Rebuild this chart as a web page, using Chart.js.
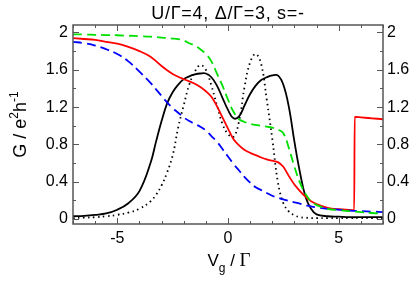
<!DOCTYPE html>
<html lang="en">
<head>
<meta charset="UTF-8">
<title>G vs Vg</title>
<script src="https://cdn.jsdelivr.net/npm/chart.js"></script>
<style>
    body { margin: 0; background: #fff; }
    #wrap { width: 411px; height: 284px; }
</style>
</head>
<body>
<div id="wrap"><canvas id="gChart"></canvas></div>
<script>
// gate voltage grid (Vg / Gamma)
const vg = [-7, -6.5, -6, -5.5, -5, -4.5, -4, -3.5, -3.25, -3, -2.75, -2.5, -2.25, -2, -1.75, -1.5, -1.25, -1, -0.75, -0.5, -0.25,
    0, 0.25, 0.5, 0.75, 1, 1.25, 1.5, 1.75, 2, 2.25, 2.5, 2.75, 3, 3.25, 3.5, 3.75, 4, 4.5, 5, 5.5, 6, 6.5, 7];

const gSolid = [0.03, 0.035, 0.045, 0.06, 0.10, 0.17, 0.30, 0.60, 0.83, 1.05, 1.24, 1.36, 1.44, 1.50, 1.53, 1.55, 1.56, 1.56, 1.52, 1.43, 1.30,
    1.17, 1.08, 1.10, 1.22, 1.34, 1.43, 1.49, 1.52, 1.54, 1.54, 1.44, 1.20, 0.83, 0.50, 0.24, 0.11, 0.05, 0.03, 0.025, 0.02, 0.02, 0.02, 0.02];

const gDotted = [0.01, 0.015, 0.02, 0.03, 0.045, 0.07, 0.11, 0.19, 0.26, 0.36, 0.50, 0.68, 0.98, 1.22, 1.44, 1.58, 1.65, 1.60, 1.43, 1.22, 1.02,
    0.91, 0.88, 1.05, 1.42, 1.68, 1.77, 1.66, 1.28, 0.86, 0.40, 0.17, 0.08, 0.04, 0.02, 0.015, 0.01, 0.01, 0.01, 0.01, 0.01, 0.01, 0.01, 0.01];

const gGreen = [1.98, 1.978, 1.975, 1.972, 1.97, 1.965, 1.96, 1.955, 1.95, 1.945, 1.94, 1.935, 1.928, 1.915, 1.885, 1.86, 1.82, 1.77, 1.69, 1.56, 1.43,
    1.28, 1.15, 1.07, 1.04, 1.02, 1.01, 1.00, 0.99, 0.98, 0.96, 0.92, 0.76, 0.56, 0.39, 0.27, 0.19, 0.15, 0.11, 0.095, 0.085, 0.075, 0.065, 0.06];

const gBlue = [1.90, 1.885, 1.86, 1.82, 1.77, 1.69, 1.58, 1.46, 1.39, 1.32, 1.25, 1.19, 1.14, 1.09, 1.05, 1.02, 0.99, 0.95, 0.89, 0.83, 0.75,
    0.67, 0.59, 0.52, 0.45, 0.39, 0.34, 0.31, 0.28, 0.25, 0.23, 0.21, 0.195, 0.18, 0.165, 0.15, 0.135, 0.125, 0.11, 0.10, 0.09, 0.085, 0.08, 0.075];

// red curve has a jump near Vg = 5.7
const vgRed = [-7, -6.5, -6, -5.5, -5, -4.5, -4, -3.5, -3, -2.75, -2.5, -2.25, -2, -1.75, -1.5, -1.25, -1, -0.75, -0.5, -0.25,
    0, 0.25, 0.5, 0.75, 1, 1.25, 1.5, 1.75, 2, 2.25, 2.5, 2.75, 3, 3.25, 3.5, 3.75, 4, 4.5, 5, 5.5, 5.7, 5.72, 6, 6.5, 7];
const gRed = [1.94, 1.93, 1.92, 1.90, 1.88, 1.845, 1.80, 1.74, 1.64, 1.595, 1.555, 1.525, 1.50, 1.475, 1.45, 1.415, 1.37, 1.31, 1.21, 1.09,
    0.97, 0.855, 0.79, 0.74, 0.71, 0.685, 0.66, 0.64, 0.625, 0.61, 0.56, 0.46, 0.37, 0.30, 0.24, 0.19, 0.16, 0.12, 0.105, 0.097, 0.095, 1.095, 1.09, 1.08, 1.07];

const xTicks = [-5, 0, 5];
const yTicks = [0, 0.4, 0.8, 1.2, 1.6, 2];
const titleText = 'U/Γ=4, Δ/Γ=3, s=-';

const pts = (xs, ys) => xs.map((x, i) => ({ x: x, y: ys[i] }));

function line(data, color, dash, mono) {
    return {
        data: data,
        borderColor: color,
        borderWidth: 1.8,
        borderDash: dash,
        pointRadius: 0,
        fill: false,
        tension: 0.4,
        cubicInterpolationMode: mono ? 'monotone' : 'default'
    };
}

const FONT = '"Liberation Sans", Arial, sans-serif';
const SERIF = '"Liberation Serif", "Times New Roman", serif';

// frame, inward ticks, title and axis labels
const framePlugin = {
    id: 'frame',
    afterDraw(chart) {
        const c = chart.ctx, a = chart.chartArea;
        const xs = chart.scales.x, ys = chart.scales.y;
        c.save();
        c.strokeStyle = '#555';
        c.lineWidth = 1.5;
        c.strokeRect(a.left, a.top, a.right - a.left, a.bottom - a.top);
        c.lineWidth = 1;
        c.beginPath();
        for (let v = -7; v <= 7; v++) {
            const len = (v % 5 === 0) ? 6 : 3;
            const px = Math.round(xs.getPixelForValue(v)) + 0.5;
            c.moveTo(px, a.bottom); c.lineTo(px, a.bottom - len);
            c.moveTo(px, a.top); c.lineTo(px, a.top + len);
        }
        for (let k = 0; k <= 10; k++) {
            const v = k * 0.2;
            const len = (k % 2 === 0) ? 6 : 3;
            const py = Math.round(ys.getPixelForValue(v)) + 0.5;
            c.moveTo(a.left, py); c.lineTo(a.left + len, py);
            c.moveTo(a.right, py); c.lineTo(a.right - len, py);
        }
        c.stroke();

        c.fillStyle = '#000';
        c.textBaseline = 'alphabetic';
        c.textAlign = 'center';
        c.font = '18px ' + FONT;
        c.letterSpacing = '0.7px';
        c.fillText(titleText, 228, 19);
        c.letterSpacing = '0px';

        // draw a run of [text, font, dy] pieces starting at x0
        function runs(parts, x0, y0) {
            let x = x0;
            parts.forEach(p => {
                c.font = p[1];
                c.fillText(p[0], x, y0 + p[2]);
                x += c.measureText(p[0]).width;
            });
        }
        function runWidth(parts) {
            let w = 0;
            parts.forEach(p => { c.font = p[1]; w += c.measureText(p[0]).width; });
            return w;
        }

        c.textAlign = 'left';
        // x label: V_g / Γ
        const xl = [['V', '17px ' + FONT, 0], ['g', '12px ' + FONT, 6], [' / ', '17px ' + FONT, 0], ['Γ', '19px ' + SERIF, 0]];
        runs(xl, 229 - runWidth(xl) / 2, 266);

        // y label: G / e^2 h^-1
        c.translate(26, (a.top + a.bottom) / 2);
        c.rotate(-Math.PI / 2);
        const yl = [['G / e', '18px ' + FONT, 0], ['2', '12px ' + FONT, -8], ['h', '18px ' + FONT, 0], ['-1', '12px ' + FONT, -8]];
        runs(yl, -runWidth(yl) / 2, 0);
        c.restore();
    }
};

const tickFont = { family: FONT, size: 16 };

new Chart(document.getElementById('gChart'), {
    type: 'line',
    data: {
        datasets: [
            line(pts(vg, gGreen), '#00e000', [9, 5]),
            line(pts(vg, gBlue), '#0000ff', [9, 5]),
            line(pts(vgRed, gRed), '#ff0000', [], true),
            line(pts(vg, gDotted), '#000', [1.5, 3.5]),
            line(pts(vg, gSolid), '#000', [])
        ]
    },
    options: {
        responsive: true,
        maintainAspectRatio: false,
        animation: false,
        layout: { padding: { top: 25, left: 0, right: 0, bottom: 0 } },
        plugins: { legend: { display: false }, tooltip: { enabled: false } },
        scales: {
            x: {
                type: 'linear', min: -7, max: 7, position: 'bottom',
                grid: { display: false, drawTicks: false },
                border: { display: false },
                afterBuildTicks: s => { s.ticks = xTicks.map(v => ({ value: v })); },
                afterFit: s => { s.height = 60; },
                ticks: { font: tickFont, color: '#000', padding: 5, maxRotation: 0 }
            },
            y: {
                type: 'linear', min: -0.053, max: 2.08, position: 'left',
                grid: { display: false, drawTicks: false },
                border: { display: false },
                afterBuildTicks: s => { s.ticks = yTicks.map(v => ({ value: v })); },
                afterFit: s => { s.width = 73; },
                ticks: { font: tickFont, color: '#000', padding: 5, callback: v => String(v) }
            },
            y2: {
                type: 'linear', min: -0.053, max: 2.08, position: 'right',
                grid: { display: false, drawTicks: false },
                border: { display: false },
                afterBuildTicks: s => { s.ticks = yTicks.map(v => ({ value: v })); },
                afterFit: s => { s.width = 28; },
                ticks: { font: tickFont, color: '#000', padding: 4, callback: v => String(v) }
            }
        }
    },
    plugins: [framePlugin]
});
</script>
</body>
</html>
